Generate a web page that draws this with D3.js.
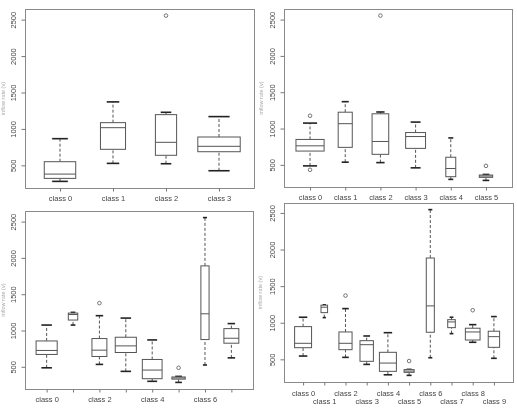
<!DOCTYPE html>
<html><head><meta charset="utf-8">
<script src="https://cdn.jsdelivr.net/npm/d3@7"></script>
<style>body{margin:0;background:#fff}svg{display:block;will-change:transform}</style>
</head><body><svg id="c" width="517" height="409"></svg>
<script>
// ---- data (five-number summaries: low whisker, Q1, median, Q3, high whisker) ----
const p1Classes = ["class 0","class 1","class 2","class 3"];
const p1Stats = [[280,321,380,550,866],[527,720,1017,1086,1371],[522,638,816,1196,1228],[426,687,761,889,1169]];
const p1Counts = [22,14,10,40];
const p1Outliers = [[2,2555]];

const p2Classes = ["class 0","class 1","class 2","class 3","class 4","class 5"];
const p2Stats = [[486,690,762,850,1075],[537,741,1067,1225,1370],[531,645,822,1203,1228],[459,727,890,945,1089],[300,337,450,605,871],[286,328,346,360,368]];
const p2Counts = [40,10,14,20,5,9];
const p2Outliers = [[0,1176],[0,432],[2,2555],[5,486]];

const p3Classes = ["class 0","class 1","class 2","class 3","class 4","class 5","class 6","class 7"];
const p3Stats = [[486,670,725,856,1075],[1075,1144,1220,1240,1250],[533,642,729,889,1204],[437,697,788,907,1171],[300,336,455,601,870],[285,330,346,360,368],[525,875,1230,1890,2555],[623,825,893,1026,1095]];
const p3Counts = [40,8,20,40,35,16,6,20];
const p3Outliers = [[2,1377],[5,486]];

const p4Classes = ["class 0","class 1","class 2","class 3","class 4","class 5","class 6","class 7","class 8","class 9"];
const p4Stats = [[545,659,719,947,1075],[1070,1138,1212,1240,1245],[527,632,719,874,1193],[431,473,700,755,819],[289,336,449,596,864],[281,322,340,360,363],[522,870,1230,1884,2545],[851,933,1011,1042,1075],[733,764,874,925,974],[514,664,810,884,1084]];
const p4Counts = [40,6,24,25,40,14,9,8,30,18];
const p4Outliers = [[2,1371],[5,477],[8,1171]];

const yTicks = [500,1000,1500,2000,2500];
const yLabel = "inflow rate (v)";

// ---- layout ----
const panels = [
  {classes:p1Classes, stats:p1Stats, counts:p1Counts, outliers:p1Outliers, x0:25, x1:254, y0:9, y1:188, mode:"all", ylabX:3},
  {classes:p2Classes, stats:p2Stats, counts:p2Counts, outliers:p2Outliers, x0:284, x1:512, y0:9, y1:187, mode:"all", ylabX:261},
  {classes:p3Classes, stats:p3Stats, counts:p3Counts, outliers:p3Outliers, x0:25, x1:253, y0:211, y1:389, mode:"even", ylabX:3},
  {classes:p4Classes, stats:p4Stats, counts:p4Counts, outliers:p4Outliers, x0:284, x1:513, y0:203, y1:382, mode:"two", ylabX:260}
];

const svg = d3.select("#c");
const FONT = "'Liberation Sans', Arial, sans-serif";

panels.forEach(p => {
  const n = p.classes.length;
  const vals = p.stats.flat().concat(p.outliers.map(o => o[1]));
  const [mn, mx] = d3.extent(vals);
  const pad = (mx - mn) * 0.04;
  const y = d3.scaleLinear().domain([mn - pad, mx + pad]).range([p.y1, p.y0]);
  const x = d3.scaleLinear().domain([0.5 - 0.04*n, n + 0.5 + 0.04*n]).range([p.x0, p.x1]);
  const cmax = d3.max(p.counts);
  const g = svg.append("g");

  // frame
  g.append("rect").attr("x", p.x0 + 0.5).attr("y", p.y0 + 0.5)
    .attr("width", p.x1 - p.x0).attr("height", p.y1 - p.y0)
    .attr("fill", "none").attr("stroke", "#8a8a8a").attr("stroke-width", 1);

  // y axis
  const ya = g.append("g").attr("transform", `translate(${p.x0 + 0.5},0)`)
    .call(d3.axisLeft(y).tickValues(yTicks).tickSize(4).tickFormat(d3.format("d")));
  ya.select(".domain").remove();
  ya.selectAll(".tick line").attr("stroke", "#777");
  ya.selectAll(".tick text")
    .attr("transform", "rotate(-90)")
    .attr("x", 0).attr("y", -12).attr("dy", "0.35em")
    .attr("text-anchor", "middle")
    .attr("font-family", FONT).attr("font-size", 7.5).attr("fill", "#444");

  // x axis
  const xa = g.append("g").attr("transform", `translate(0,${p.y1 + 0.5})`)
    .call(d3.axisBottom(x).tickValues(d3.range(1, n + 1)).tickSize(3)
      .tickFormat(i => p.classes[i - 1]));
  xa.select(".domain").remove();
  xa.selectAll(".tick line").attr("stroke", "#777");
  xa.selectAll(".tick text")
    .attr("font-family", FONT).attr("font-size", 7.5).attr("fill", "#444")
    .attr("dy", "0.35em")
    .attr("y", (d) => p.mode === "two" ? (d % 2 === 1 ? 11 : 19) : 10)
    .style("display", (d) => (p.mode === "even" && d % 2 === 0) ? "none" : null);

  // y label
  g.append("text")
    .attr("transform", `translate(${p.ylabX},${(p.y0 + p.y1) / 2}) rotate(-90)`)
    .attr("text-anchor", "middle").attr("dy", "0.35em")
    .attr("font-family", FONT).attr("font-size", 5.5).attr("fill", "#aaa")
    .text(yLabel);

  // boxes
  p.stats.forEach((s, i) => {
    const cx = x(i + 1);
    const hw = x(1 + 0.4 * Math.sqrt(p.counts[i] / cmax)) - x(1);
    const [lo, q1, md, q3, hi] = s;
    const b = g.append("g");
    b.append("line").attr("x1", cx).attr("x2", cx).attr("y1", y(lo)).attr("y2", y(q1))
      .attr("stroke", "#555").attr("stroke-dasharray", "3,2");
    b.append("line").attr("x1", cx).attr("x2", cx).attr("y1", y(q3)).attr("y2", y(hi))
      .attr("stroke", "#555").attr("stroke-dasharray", "3,2");
    [lo, hi].forEach(v => {
      b.append("line").attr("x1", cx - hw / 2).attr("x2", cx + hw / 2)
        .attr("y1", y(v)).attr("y2", y(v)).attr("stroke", "#222").attr("stroke-width", 1.6);
    });
    b.append("rect").attr("x", cx - hw).attr("y", y(q3)).attr("width", 2 * hw)
      .attr("height", y(q1) - y(q3)).attr("fill", "#fff").attr("stroke", "#555");
    b.append("line").attr("x1", cx - hw).attr("x2", cx + hw).attr("y1", y(md)).attr("y2", y(md))
      .attr("stroke", "#555");
  });

  // outliers
  g.selectAll("circle.o").data(p.outliers).enter().append("circle")
    .attr("cx", o => x(o[0] + 1)).attr("cy", o => y(o[1])).attr("r", 1.8)
    .attr("fill", "none").attr("stroke", "#666").attr("stroke-width", 0.9);
});
</script></body></html>
